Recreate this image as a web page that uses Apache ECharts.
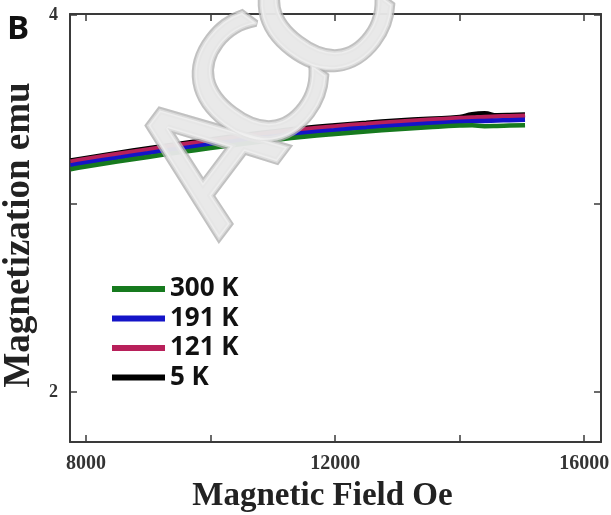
<!DOCTYPE html>
<html>
<head>
<meta charset="utf-8">
<style>
  html, body { margin: 0; padding: 0; background: #fff; }
  #chart { width: 611px; height: 515px; }
</style>
<script src="https://cdn.jsdelivr.net/npm/echarts@6/dist/echarts.min.js"></script>
</head>
<body>
<div id="chart"></div>
<script>
// Magnetic field (Oe) sample points
const field = [7750, 8000, 8500, 9000, 9500, 10000, 10500, 11000, 11500, 12000,
               12500, 13000, 13500, 14000, 14200, 14400, 14600, 14800, 15050];

// Magnetization (emu) at each temperature
const m5K   = [3.228, 3.242, 3.268, 3.293, 3.317, 3.340, 3.362, 3.382, 3.400, 3.415,
               3.428, 3.440, 3.450, 3.459, 3.474, 3.478, 3.468, 3.469, 3.472];
const m121K = [3.222, 3.236, 3.262, 3.287, 3.311, 3.334, 3.356, 3.376, 3.394, 3.409,
               3.422, 3.434, 3.444, 3.453, 3.456, 3.459, 3.461, 3.463, 3.465];
const m191K = [3.202, 3.216, 3.242, 3.267, 3.291, 3.314, 3.336, 3.356, 3.374, 3.389,
               3.402, 3.414, 3.424, 3.433, 3.436, 3.438, 3.440, 3.442, 3.444];
const m300K = [3.182, 3.196, 3.222, 3.247, 3.271, 3.294, 3.316, 3.336, 3.354, 3.369,
               3.382, 3.394, 3.404, 3.413, 3.415, 3.410, 3.411, 3.413, 3.415];

const seriesNames = ['300 K', '191 K', '121 K', '5 K'];

// Axis ticks and labels
const xTicks = [8000, 10000, 12000, 14000, 16000];
const xLabels = [8000, 12000, 16000];
const yTicks = [2, 3, 4];
const yLabels = [2, 4];

const pair = (ys) => field.map((x, i) => [x, ys[i]]);

const serif = '"Liberation Serif", "Times New Roman", serif';
const sans = '"Open Sans", "Liberation Sans", sans-serif';
const frame = { lineStyle: { color: '#3a3a3a', width: 2 } };
const tickStyle = { color: '#3a3a3a', width: 1.5 };

function axisBase(extra) {
  return Object.assign({
    type: 'value',
    axisLine: Object.assign({ show: true, onZero: false }, frame),
    splitLine: { show: false }
  }, extra);
}

// Watermark lettering, one glyph at a time: a soft grey rim pass under a lighter face pass
const stampLetters = [
  { ch: 'A', x: 218, y: 166 },
  { ch: 'C', x: 268, y: 95 },
  { ch: 'C', x: 334, y: 24 }
];
function stampPass(stroke, lineWidth, fill, z) {
  return stampLetters.map((l) => ({
    type: 'text',
    x: l.x, y: l.y,
    rotation: 53 * Math.PI / 180,
    z: z,
    silent: true,
    style: {
      text: l.ch,
      fontFamily: '"DejaVu Sans", sans-serif',
      fontSize: 170,
      fontWeight: 'normal',
      fill: fill,
      stroke: stroke,
      lineWidth: lineWidth,
      lineJoin: 'round',
      opacity: 0.8,
      textAlign: 'center',
      textVerticalAlign: 'middle'
    }
  }));
}

const chart = echarts.init(document.getElementById('chart'), null, { renderer: 'canvas' });

chart.setOption({
  animation: false,
  backgroundColor: '#fff',
  grid: { left: 70, right: 10, top: 14, bottom: 73, containLabel: false, outerBoundsMode: 'none' },
  title: {
    text: 'B', left: 2, top: 8,
    textStyle: { fontFamily: sans, fontWeight: 'bold', fontSize: 33, color: '#111' }
  },
  legend: {
    data: seriesNames,
    orient: 'vertical',
    left: 107, top: 271,
    itemWidth: 53, itemHeight: 6,
    itemGap: 3.5,
    icon: 'rect',
    textStyle: { fontFamily: sans, fontWeight: 'bold', fontSize: 26, lineHeight: 26, color: '#111', padding: [0, 0, 0, 0] }
  },
  xAxis: [
    axisBase({
      position: 'bottom', min: 7742, max: 16270,
      name: 'Magnetic Field Oe', nameLocation: 'middle', nameGap: 38,
      nameTextStyle: { fontFamily: serif, fontWeight: 'bold', fontSize: 33, color: '#222', padding: [0, 26, 0, 0] },
      axisTick: { show: true, inside: true, length: 7, customValues: xTicks, lineStyle: tickStyle },
      axisLabel: { customValues: xLabels, margin: 12, formatter: (v) => String(v),
                   fontFamily: serif, fontWeight: 'bold', fontSize: 20, color: '#333' }
    }),
    axisBase({
      position: 'top', min: 7742, max: 16270,
      axisTick: { show: true, inside: true, length: 7, customValues: xTicks, lineStyle: tickStyle },
      axisLabel: { show: false }
    })
  ],
  yAxis: [
    axisBase({
      position: 'left', min: 1.735, max: 4.005,
      name: 'Magnetization emu', nameLocation: 'middle', nameGap: 28,
      nameTextStyle: { fontFamily: serif, fontWeight: 'bold', fontSize: 37, color: '#222', padding: [0, 14, 0, 0] },
      axisTick: { show: true, inside: true, length: 7, customValues: yTicks, lineStyle: tickStyle },
      axisLabel: { customValues: yLabels, margin: 12, fontFamily: serif, fontWeight: 'bold', fontSize: 18, color: '#333' }
    }),
    axisBase({
      position: 'right', min: 1.735, max: 4.005,
      axisTick: { show: true, inside: true, length: 7, customValues: yTicks, lineStyle: tickStyle },
      axisLabel: { show: false }
    })
  ],
  series: [
    { name: '5 K',   type: 'line', data: pair(m5K),   showSymbol: false, smooth: true, color: '#000000', lineStyle: { width: 4.5 } },
    { name: '121 K', type: 'line', data: pair(m121K), showSymbol: false, smooth: true, color: '#b8205a', lineStyle: { width: 4.5 } },
    { name: '191 K', type: 'line', data: pair(m191K), showSymbol: false, smooth: true, color: '#1414c8', lineStyle: { width: 4.5 } },
    { name: '300 K', type: 'line', data: pair(m300K), showSymbol: false, smooth: true, color: '#167a1e', lineStyle: { width: 4.5 } }
  ],
  graphic: [].concat(
    stampPass('#b2b2b2', 7, '#b2b2b2', 100),
    stampPass('#e2e2e2', 3, '#f2f2f2', 101)
  )
});
</script>
</body>
</html>
